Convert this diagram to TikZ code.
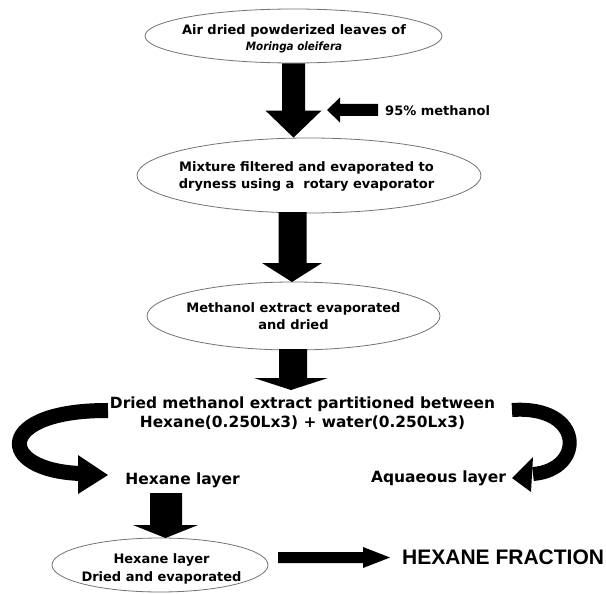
\documentclass[tikz,border=0pt]{standalone}
\usepackage{fontspec}
\setmainfont{DejaVu Sans}
\newfontfamily\arialfont{Liberation Sans}
\newfontfamily\condfont{DejaVu Sans Condensed}
\usetikzlibrary{calc,shapes.geometric}
\tikzset{
  ell/.style={draw=black!55, line width=0.8pt, fill=white, ellipse, inner sep=0pt},
  txt/.style={align=center, inner sep=0pt, text=black, font=\bfseries\fontsize{13}{17}\selectfont},
  bigtxt/.style={align=center, inner sep=0pt, text=black, font=\bfseries\fontsize{15.4}{19}\selectfont},
  curvearrow/.style={draw=black, line cap=butt},
}
% vertical block arrow: start, tip, shaft half width, head half width, head length
\newcommand\vblock[5]{\fill let \p1=(#1), \p2=(#2) in
  ({\x1-#3pt},\y1) -- ({\x1+#3pt},\y1) -- ({\x1+#3pt},{\y2+#5pt}) -- ({\x2+#4pt},{\y2+#5pt}) --
  (\x2,\y2) -- ({\x2-#4pt},{\y2+#5pt}) -- ({\x1-#3pt},{\y2+#5pt}) -- cycle;}
% horizontal block arrow: start, tip, shaft half height, head half height, signed head length
\newcommand\hblock[5]{\fill let \p1=(#1), \p2=(#2) in
  (\x1,{\y1-#3pt}) -- (\x1,{\y1+#3pt}) -- ({\x2-(#5pt)},{\y1+#3pt}) -- ({\x2-(#5pt)},{\y2+#4pt}) --
  (\x2,\y2) -- ({\x2-(#5pt)},{\y2-#4pt}) -- ({\x2-(#5pt)},{\y1-#3pt}) -- cycle;}
\begin{document}
\begin{tikzpicture}[x=1pt,y=-1pt]
\useasboundingbox[fill=white] (0,0) rectangle (606,594);

% ellipses
\node[ell, minimum width=297pt, minimum height=54pt] (e1) at (293.5,36) {};
\node[ell, minimum width=344pt, minimum height=75pt] (e2) at (309,175.5) {};
\node[ell, minimum width=293pt, minimum height=68pt] (e3) at (293.5,316) {};
\node[ell, minimum width=216pt, minimum height=54pt] (e4) at (160,565) {};

% texts
\node[txt] (t1) at (294,39) {Air dried powderized leaves of\\[-1pt]
  {\condfont\bfseries\itshape\fontsize{11.5}{14}\selectfont Moringa oleifera}};
\node[txt] (t2) at (306.5,176.5) {Mixture filtered and evaporated to\\dryness using a\ \ rotary evaporator};
\node[txt] (t3) at (293.5,316.5) {Methanol extract evaporated\\and dried};
\node[bigtxt] (part) at (302.5,413.5) {Dried methanol extract partitioned between\\Hexane(0.250Lx3) + water(0.250Lx3)};
\node[bigtxt, font=\bfseries\fontsize{15.5}{19}\selectfont] (hex) at (182.5,480) {Hexane layer};
\node[bigtxt, font=\bfseries\fontsize{15.5}{19}\selectfont] (aq) at (438.5,478) {Aquaeous layer};
\node[txt, font=\bfseries\fontsize{13}{18}\selectfont] (t4) at (161.5,569) {Hexane layer\\Dried and evaporated};
\node[txt, anchor=west] (meth) at (385,111) {95\% methanol};
\node[anchor=west, inner sep=0pt, font=\arialfont\bfseries\fontsize{21}{25}\selectfont] (frac) at (402,557.5) {HEXANE FRACTION};

% arrow end points
\coordinate (a1s) at (e1.south);
\coordinate (a1e) at (e2.north -| e1.south);
\coordinate (a2s) at (292.5,212);
\coordinate (a2e) at (292,282);
\coordinate (a3s) at (293,349);
\coordinate (a3e) at (291,390);
\coordinate (a4s) at (166,493);
\coordinate (a4e) at (165.5,538);
\coordinate (ms) at (378,110);
\coordinate (me) at (327,110);
\coordinate (fs) at (278,557.5);
\coordinate (fe) at (390,557.5);

\vblock{a1s}{a1e}{11.5}{28}{27}
\vblock{a2s}{a2e}{14}{30}{19}
\vblock{a3s}{a3e}{14}{37}{12}
\vblock{a4s}{a4e}{16}{32.5}{13}
\hblock{ms}{me}{6}{12.5}{-13}
\hblock{fs}{fe}{5.5}{10.5}{27}

% curved arrows
\coordinate (ls) at (108,410.5);
\coordinate (le) at (80,473.5);
\coordinate (lt) at (108,475);
\draw[curvearrow, line width=15pt] (ls) .. controls (-5,410) and (-5,470) .. (le);
\fill (78,455) -- (lt) -- (78,494) -- cycle;

\coordinate (rs) at (512,410);
\coordinate (re) at (533,474);
\coordinate (rt) at (512,478);
\draw[curvearrow, line width=14pt] (rs) .. controls (585,405) and (585,470) .. (re);
\fill (533,457) -- (rt) -- (531,492) -- cycle;
\end{tikzpicture}
\end{document}
